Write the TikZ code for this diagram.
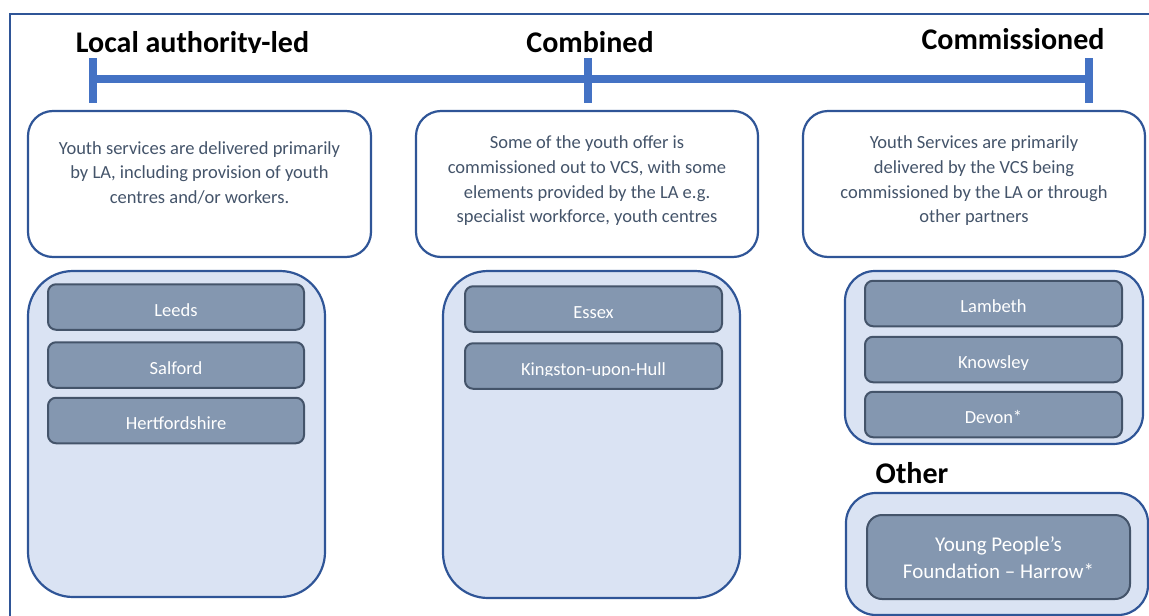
\documentclass[tikz,border=0pt]{standalone}
\usepackage{fontspec}
\setmainfont{Carlito}
\definecolor{frameblue}{HTML}{2F5597}
\definecolor{lineblue}{HTML}{4472C4}
\definecolor{textgray}{HTML}{44546A}
\definecolor{lightfill}{HTML}{DAE3F3}
\definecolor{itemfill}{HTML}{8497B0}
\definecolor{itemedge}{HTML}{44546A}
\begin{document}
\begin{tikzpicture}[x=1pt,y=-1pt,
  titletext/.style={font=\fontsize{30}{36}\selectfont\bfseries, text=black, anchor=base, inner sep=0pt},
  tickline/.style={draw=lineblue, line width=8pt},
  descbox/.style={draw=frameblue, line width=2.2pt, fill=white, rounded corners=25pt, minimum width=343pt, minimum height=146pt, inner sep=0pt},
  desctext/.style={font=\fontsize{18.5}{24.7}\selectfont, text=textgray, align=center, inner sep=0pt, anchor=base},
  container/.style={draw=frameblue, line width=2.2pt, fill=lightfill, inner sep=0pt},
  item/.style={draw=itemedge, line width=2pt, fill=itemfill, rounded corners=8pt, minimum width=256pt, minimum height=45.5pt, inner sep=0pt, text=white, font=\fontsize{18.5}{22}\selectfont, text height=18pt, text depth=0pt},
  itemtext/.style={inner sep=0pt, text=white, font=\fontsize{18.5}{22}\selectfont, text height=18pt, text depth=0pt}
]
\useasboundingbox (0,0) rectangle (1149,616);
\clip (0,0) rectangle (1149,616);

% outer frame
\coordinate (frBL) at (10,640);
\coordinate (frTL) at (10,13.5);
\coordinate (frTR) at (1170,13.5);
\draw[frameblue, line width=2pt] (frBL) -- (frTL) -- (frTR);

% titles
\begin{scope}
  \clip (0,0) rectangle (1149,52.5);
  \node[titletext] (tLA) at (192.5,52) {Local authority-led};
\end{scope}
\node[titletext] (tComb) at (590,52) {Combined};
\node[titletext] (tComm) at (1013,49) {Commissioned};

% timeline
\coordinate (tlL) at (93,79);
\coordinate (tlM) at (587.5,79);
\coordinate (tlR) at (1089,79);
\draw[tickline] (tlL) -- (tlR);
\draw[tickline] ([yshift=21pt]tlL) -- ([yshift=-24pt]tlL);
\draw[tickline] ([yshift=21pt]tlM) -- ([yshift=-24pt]tlM);
\draw[tickline] ([yshift=21pt]tlR) -- ([yshift=-24pt]tlR);

% description boxes
\node[descbox] (d1) at (199.5,184) {};
\node[descbox, minimum width=342pt] (d2) at (587,184) {};
\node[descbox, minimum width=342pt] (d3) at (974,184) {};
\node[desctext] (dt1) at ([yshift=-93.5pt]d1.north) {Youth services are delivered primarily\\by LA, including provision of youth\\centres and/or workers.};
\node[desctext] (dt2) at ([yshift=-113pt]d2.north) {Some of the youth offer is\\commissioned out to VCS, with some\\elements provided by the LA e.g.\\specialist workforce, youth centres};
\node[desctext] (dt3) at ([yshift=-113pt]d3.north) {Youth Services are primarily\\delivered by the VCS being\\commissioned by the LA or through\\other partners};

% containers
\node[container, rounded corners=45pt, minimum width=297pt, minimum height=326pt] (c1) at (176.5,434) {};
\node[container, rounded corners=45pt, minimum width=297pt, minimum height=327pt] (c2) at (591.5,434.5) {};
\node[container, rounded corners=30pt, minimum width=298pt, minimum height=173pt] (c3) at (994,357.5) {};
\node[titletext] (tOther) at (912,483) {Other};
\node[container, rounded corners=30pt, minimum width=302pt, minimum height=122pt] (c4) at (997,554) {};

% items column 1
\node[item] (leeds) at (176,307) {Leeds};
\node[item] (salford) at (176,365) {Salford};
\node[item] (herts) at (176,420.5) {Hertfordshire};

% items column 2
\node[item, minimum width=257pt] (essex) at (593.5,309) {Essex};
\node[item, minimum width=257pt] (hull) at (593.5,366) {};
\begin{scope}
  \clip (hull.north west) rectangle ([yshift=-9.5pt]hull.east);
  \node[itemtext] (hullt) at (hull.center) {Kingston-upon-Hull};
\end{scope}

% items column 3
\node[item, minimum width=257pt] (lambeth) at (993.5,303.5) {Lambeth};
\node[item, minimum width=257pt] (knowsley) at (993.5,359.5) {};
\begin{scope}
  \clip (knowsley.north west) rectangle ([yshift=-9.5pt]knowsley.east);
  \node[itemtext] (knowsleyt) at (knowsley.center) {Knowsley};
\end{scope}
\node[item, minimum width=257pt] (devon) at (993.5,414.5) {Devon*};

% other item
\node[item, rounded corners=15pt, minimum width=263pt, minimum height=84pt] (ypf) at (998.5,557) {};
\node[desctext, text=white, font=\fontsize{21}{27}\selectfont] (ypft) at ([yshift=-64.5pt]ypf.north) {Young People’s\\Foundation – Harrow*};
\end{tikzpicture}
\end{document}
